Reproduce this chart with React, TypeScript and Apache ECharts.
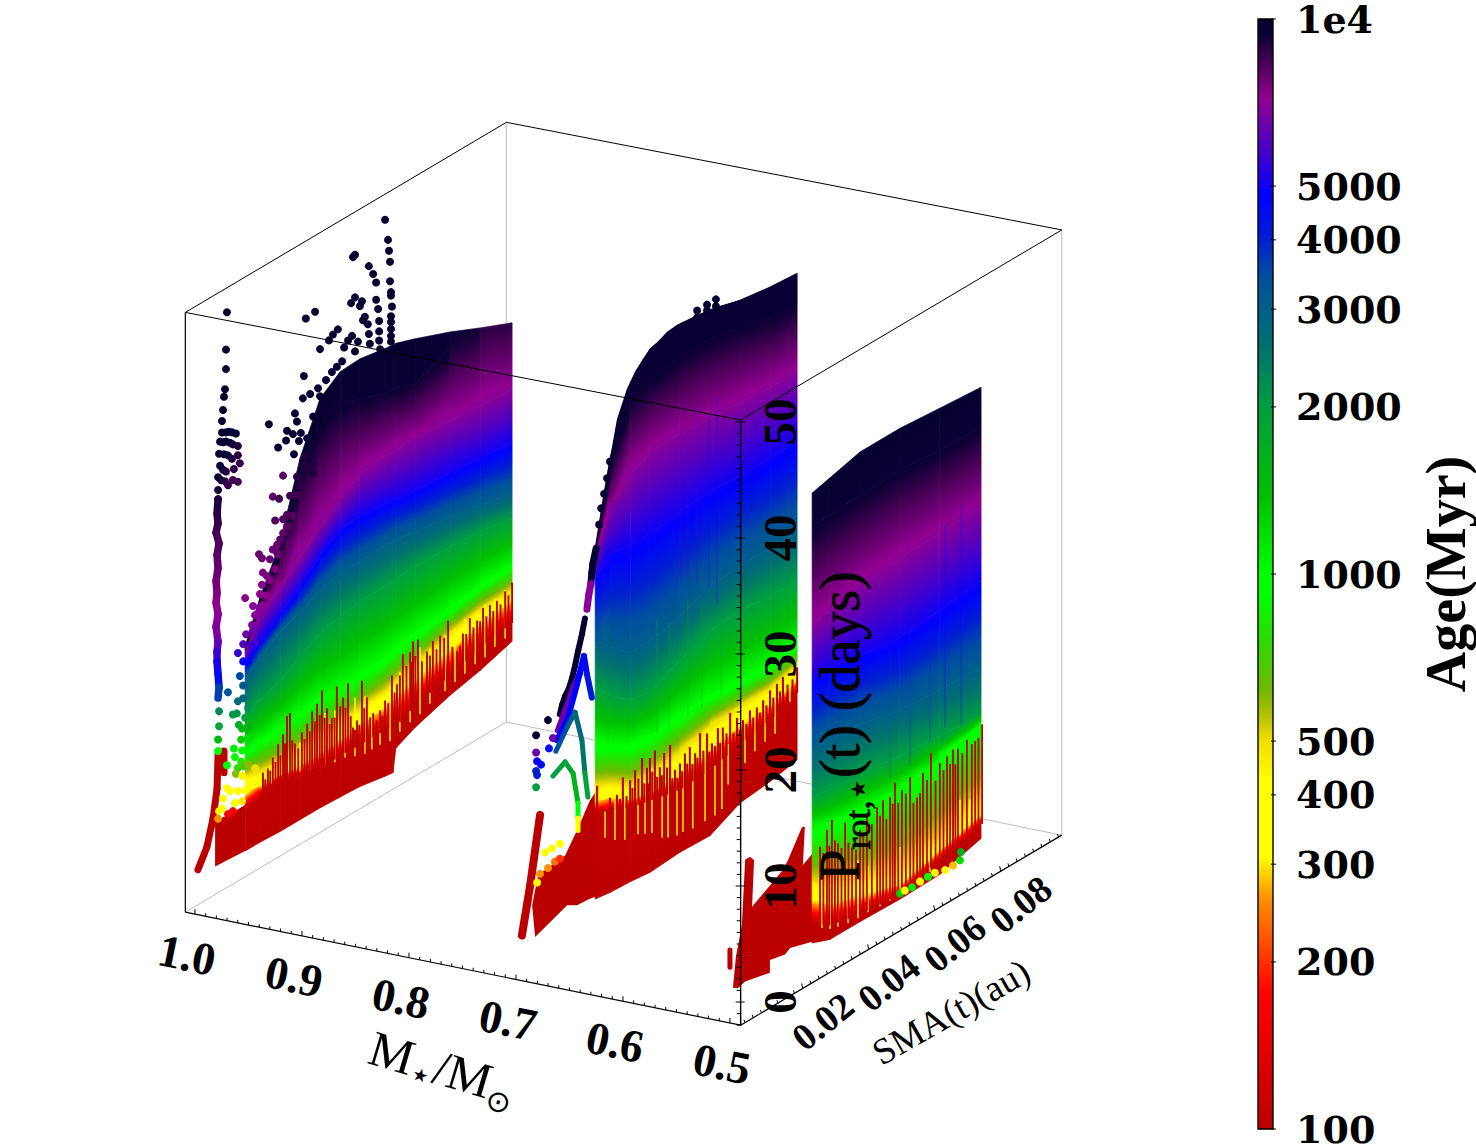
import { useEffect, useRef } from 'react';
import * as echarts from 'echarts';

// colour scale (Myr -> colour)
const scaleAges = [100, 175, 260, 310, 420, 500, 560, 620, 750, 920, 1000, 1380, 2000, 2590, 3450, 4000, 4800, 5800, 7200, 8500, 9300, 10000];
const scaleColors = ['#bb0000', '#ff0000', '#ff9000', '#ffff00', '#ffff00', '#f0e000', '#b0c000', '#70b800', '#30d800', '#00ff00', '#00ff00', '#00c000', '#009f40', '#007070', '#004f9f', '#0020d0', '#0000ff', '#4800c8', '#900090', '#400050', '#0e0035', '#05002f'];

const barTicks = [100, 200, 300, 400, 500, 1000, 2000, 3000, 4000, 5000, 10000];
const barLabels = ['100', '200', '300', '400', '500', '1000', '2000', '3000', '4000', '5000', '1e4'];
const massTicks = [1.0, 0.9, 0.8, 0.7, 0.6, 0.5];
const massLabels = ['1.0', '0.9', '0.8', '0.7', '0.6', '0.5'];
const smaTicks = [0.02, 0.04, 0.06, 0.08];
const smaLabels = ['0.02', '0.04', '0.06', '0.08'];
const protTicks = [0, 10, 20, 30, 40, 50];
const protLabels = ['0', '10', '20', '30', '40', '50'];

const massRange = [0.49, 1.009];
const smaRange = [0.0012, 0.0985];
const protRange = [-2, 50.17];

// one row per age, one value per sma column
const isoAges = [100, 105, 300, 500, 1000, 2000, 3000, 5000, 7000, 9500, 10000];

const leftMass = 1.0;
const leftSma = [0.0164, 0.0209, 0.027, 0.033, 0.0391, 0.0452, 0.0512, 0.0588, 0.0612, 0.0621, 0.0679, 0.0785, 0.0876, 0.0973];
const leftProt = [
  [0.9, 0.9, 0.8, 0.8, 0.8, 0.7, 0.6, 0.2, 0.1, 2.1, 2.9, 3.9, 4.5, 5.4],
  [4.3, 5.0, 5.2, 4.6, 4.1, 4.3, 4.2, 4.2, 4.2, 4.0, 4.8, 5.6, 6.4, 7.0],
  [6.0, 5.8, 5.7, 5.5, 5.6, 5.6, 5.9, 6.3, 6.5, 6.6, 7.0, 7.8, 8.6, 8.9],
  [7.5, 7.1, 6.8, 6.8, 6.9, 7.2, 7.4, 7.6, 7.8, 7.9, 8.3, 9.3, 9.9, 9.8],
  [9.4, 9.7, 9.8, 10.1, 10.3, 10.1, 10.2, 10.4, 10.7, 10.7, 11.0, 11.4, 11.8, 12.1],
  [12.9, 13.3, 13.9, 15.0, 16.0, 16.4, 16.7, 16.7, 16.8, 16.8, 16.9, 16.8, 16.6, 16.1],
  [15.8, 17.0, 18.2, 18.9, 19.8, 20.1, 20.1, 20.3, 20.2, 20.2, 19.9, 19.4, 18.9, 18.2],
  [17.2, 18.3, 19.7, 21.0, 22.8, 24.0, 24.2, 23.9, 23.9, 23.8, 23.5, 23.3, 23.0, 22.7],
  [18.1, 20.7, 22.0, 23.6, 25.2, 26.6, 27.7, 28.1, 28.0, 28.0, 28.1, 27.8, 27.5, 27.3],
  [18.4, 21.8, 25.2, 30.9, 34.2, 34.9, 34.3, 33.5, 33.5, 33.4, 32.8, 34.1, 34.2, 33.0],
  [18.7, 22.2, 25.9, 32.2, 36.4, 37.7, 37.8, 37.4, 37.3, 37.3, 36.7, 35.5, 34.3, 33.1],
];
// the sheet's right end stops short of the oldest ages
const leftNearTopAges = [9500, 9500, 9500, 9500, 9500, 9500, 9500, 9500, 9500, 9500, 9500, 9500, 9000, 8700];
const leftTopAges = [10000, 10000, 10000, 10000, 10000, 10000, 10000, 10000, 10000, 10000, 10000, 9600, 9000, 8700];

const midMass = 0.7;
const midSma = [0.0252, 0.0297, 0.0358, 0.0418, 0.0509, 0.06, 0.0691, 0.0782, 0.0864];
const midProt = [
  [0.9, 0.7, 0.6, 0.4, 0.6, 0.5, 1.8, 2.1, 2.6],
  [8.1, 7.8, 7.0, 6.6, 6.0, 6.2, 6.8, 7.4, 8.4],
  [9.4, 8.9, 7.7, 7.3, 7.3, 7.9, 8.5, 8.7, 9.5],
  [10.7, 10.2, 8.9, 8.8, 9.4, 10.0, 10.2, 10.2, 10.8],
  [14.2, 13.4, 12.4, 12.2, 12.4, 12.6, 12.2, 12.1, 12.5],
  [19.4, 17.7, 16.3, 16.1, 17.2, 18.2, 18.4, 18.2, 18.1],
  [23.2, 22.0, 20.4, 20.4, 21.0, 22.1, 22.3, 22.3, 22.4],
  [28.6, 30.0, 29.8, 29.7, 30.1, 30.3, 30.1, 30.1, 30.2],
  [30.6, 34.1, 35.8, 36.8, 36.8, 36.6, 36.4, 36.2, 36.2],
  [31.0, 37.1, 42.4, 42.8, 43.5, 43.5, 43.0, 42.3, 42.0],
  [31.3, 38.3, 43.6, 45.7, 46.3, 46.0, 45.3, 44.9, 44.7],
];
// top edge of the sheet: [sma, prot]
const midTopEdge = [[0.0258, 32.2], [0.0276, 35.3], [0.0297, 38.3], [0.0318, 41.3], [0.0348, 43.4], [0.0373, 44.5], [0.0397, 45.2], [0.0418, 45.7], [0.0439, 45.9], [0.047, 46.3], [0.05, 46.4], [0.0561, 46.2], [0.0621, 45.9], [0.07, 45.2], [0.0782, 44.9], [0.0864, 44.7]];
// faint vertical streaks: [sma, low, high, age]
const midStreaks = [[0.0512, 24, 38, 6000], [0.0533, 24, 37, 6000], [0.0561, 23, 38, 6000], [0.0597, 22, 37, 5000], [0.0621, 20, 38, 5000], [0.0439, 12, 22, 1800], [0.0476, 12, 21, 1800], [0.0533, 12, 22, 1800], [0.0576, 12, 21, 1800], [0.0633, 12, 19, 1800]];

const rightMass = 0.5;
const rightSma = [0.0261, 0.0315, 0.0406, 0.0527, 0.0648, 0.0773];
const rightProt = [
  [0.7, 0.1, 0.1, 0.0, 0.1, 1.1],
  [2.3, 1.3, 0.7, 0.4, 1.3, 2.3],
  [4.4, 3.1, 2.4, 1.2, 2.2, 3.1],
  [6.1, 4.8, 3.7, 2.5, 3.2, 4.7],
  [10.5, 10.0, 9.7, 9.4, 10.0, 11.1],
  [13.3, 13.0, 12.8, 12.4, 12.1, 11.7],
  [17.4, 17.3, 17.1, 16.3, 16.0, 15.9],
  [23.4, 23.5, 23.1, 22.5, 22.9, 23.4],
  [28.1, 28.5, 29.1, 29.4, 29.5, 29.7],
  [36.6, 36.7, 36.9, 37.0, 36.7, 36.6],
  [39.5, 39.9, 40.6, 40.6, 40.3, 40.0],
];
const rightStreaks = [[0.0664, 12.5, 30, 4800], [0.0712, 12, 31, 4800], [0.0618, 12, 26, 4000], [0.0558, 11, 25, 4000], [0.0497, 11, 22, 3500]];

// red spikes: [sma, prot]
const leftSpikes = [[0.0218, 6.8], [0.0233, 6.9], [0.0248, 7.6], [0.0264, 8.5], [0.0279, 9.1], [0.0291, 10.5], [0.03, 10.6], [0.0315, 7.7], [0.0336, 8.3], [0.0352, 8.8], [0.0367, 9.6], [0.0382, 10.0], [0.0397, 10.9], [0.0412, 9.1], [0.0427, 8.0], [0.0442, 10.5], [0.0461, 9.2], [0.0476, 10.2], [0.0491, 6.1], [0.0503, 6.5], [0.0518, 9.7], [0.0533, 8.0], [0.0552, 6.3], [0.0573, 6.2], [0.0588, 6.8], [0.0609, 8.6], [0.0624, 7.6], [0.0642, 9.9], [0.0664, 9.7], [0.0673, 10.5], [0.0688, 10.4], [0.0715, 8.9], [0.0733, 9.5], [0.0755, 9.6], [0.0779, 10.5], [0.0806, 7.4], [0.0824, 8.6], [0.0845, 9.6], [0.0867, 9.0], [0.0885, 9.8], [0.0906, 9.7], [0.0927, 9.7], [0.0952, 10.1], [0.0973, 10.5],
  [0.0225, 6.1], [0.024, 6.6], [0.0256, 7.1], [0.0271, 7.4], [0.0285, 8.2], [0.0307, 8.1], [0.0325, 7.1], [0.0344, 7.6], [0.036, 8.0], [0.0375, 8.6], [0.039, 8.9], [0.0405, 8.4], [0.042, 7.6], [0.0435, 7.9], [0.0452, 8.6], [0.0468, 8.2], [0.0484, 7.2], [0.0497, 5.8], [0.051, 6.0], [0.0525, 7.2], [0.0543, 6.1], [0.0562, 5.5], [0.058, 5.6], [0.0598, 6.4], [0.0617, 7.0], [0.0633, 8.2], [0.0653, 8.7], [0.0668, 8.8], [0.068, 9.1], [0.07, 8.3], [0.0724, 8.4], [0.0744, 8.6], [0.0767, 9.2], [0.0792, 8.0], [0.0815, 7.7], [0.0834, 8.4], [0.0856, 8.6], [0.0876, 8.8], [0.0895, 8.9], [0.0916, 9.0], [0.0938, 9.2], [0.0962, 9.6]];
const midSpikes = [[0.0258, 10.6], [0.0273, 8.5], [0.0297, 8.9], [0.0318, 8.8], [0.0336, 10.0], [0.0358, 9.4], [0.0373, 10.0], [0.0394, 10.7], [0.0409, 9.6], [0.0418, 10.3], [0.0433, 10.7], [0.0448, 9.0], [0.0461, 10.0], [0.0479, 10.4], [0.0494, 8.0], [0.0509, 8.3], [0.0524, 8.9], [0.0539, 9.2], [0.0555, 8.4], [0.057, 9.9], [0.0591, 9.5], [0.0606, 8.4], [0.0624, 9.4], [0.0639, 9.2], [0.0661, 10.1], [0.0682, 9.3], [0.07, 8.8], [0.0721, 9.3], [0.0742, 9.2], [0.0761, 9.5], [0.0782, 10.0], [0.0803, 10.2], [0.0821, 10.5], [0.0864, 10.6],
  [0.0265, 8], [0.0285, 8], [0.0307, 7.9], [0.0327, 8.3], [0.0347, 8.2], [0.0365, 8.6], [0.0383, 9.1], [0.0401, 8.4], [0.0413, 8.2], [0.0425, 9], [0.044, 8.3], [0.0454, 8.2], [0.047, 8.6], [0.0486, 7.4], [0.0501, 7.2], [0.0516, 7.5], [0.0531, 7.9], [0.0547, 7.6], [0.0562, 7.9], [0.058, 8.2], [0.0598, 7.8], [0.0615, 8], [0.0631, 8], [0.065, 8.5], [0.0671, 8.2], [0.0691, 8.1], [0.071, 8.3], [0.0731, 8.5], [0.0751, 8.6], [0.0771, 8.9], [0.0792, 9.2], [0.0812, 9.4], [0.0835, 9.6], [0.085, 9.8]];
const rightSpikes = [[0.0285, 8.6], [0.0306, 9.7], [0.0321, 10.3], [0.0339, 8.0], [0.0361, 9.4], [0.0382, 6.9], [0.0406, 8.0], [0.0427, 9.1], [0.0458, 9.1], [0.0476, 9.4], [0.0497, 9.3], [0.0512, 10.3], [0.0533, 9.3], [0.0558, 10.0], [0.0579, 7.9], [0.0597, 9.7], [0.0621, 11.0], [0.0648, 9.7], [0.067, 9.9], [0.0688, 10.2], [0.0703, 10.0], [0.073, 10.3], [0.0776, 10.9],
  [0.0295, 7.9], [0.0313, 8.2], [0.033, 8.4], [0.035, 7.4], [0.0371, 7.5], [0.0394, 6.5], [0.0416, 7.5], [0.0442, 7.9], [0.0467, 8.2], [0.0486, 7.6], [0.0505, 8.6], [0.0522, 8.4], [0.0545, 8.8], [0.0568, 7.6], [0.0588, 8.1], [0.0609, 8.9], [0.0635, 8.4], [0.0659, 8.9], [0.0679, 9.1], [0.0695, 8.8], [0.0716, 9.4], [0.0745, 9.7], [0.0755, 9.8], [0.0765, 9.9]];

// yellow streaks: [sma, low, high]
const leftYellow = [[0.0245, 5.4, 7.0], [0.03, 5, 8.2], [0.033, 5, 7.5], [0.0361, 4.5, 8], [0.0406, 4.3, 8.8], [0.0436, 4, 8.5], [0.0467, 3.9, 8], [0.0497, 3.5, 8.6], [0.0527, 3.2, 8.2], [0.0548, 3.2, 7.5], [0.0573, 3.2, 7.2], [0.0603, 3, 7.8], [0.0633, 3.3, 8.5], [0.0664, 3.6, 8.6], [0.0694, 3.8, 9.6], [0.0724, 4.2, 9], [0.077, 4.5, 9.4], [0.08, 4.8, 9.4], [0.083, 5, 9.8], [0.0861, 5.3, 9.6], [0.0891, 5.4, 10], [0.0921, 5.8, 10], [0.0952, 6, 10.2]];
const midYellow = [[0.0282, 5.7, 8], [0.0312, 5, 8.4], [0.0342, 4.5, 8.6], [0.0382, 4.3, 9], [0.0403, 4, 8.8], [0.0424, 3.7, 9.3], [0.0455, 2.8, 9], [0.0473, 2.5, 8.8], [0.05, 2.2, 7.6], [0.0518, 2.2, 8], [0.0548, 2, 8], [0.0585, 2, 8.5], [0.0615, 2, 8.3], [0.0636, 2.2, 8], [0.0655, 4, 7.5], [0.0706, 5, 8.6], [0.0736, 5.5, 8.8], [0.0767, 5.8, 9.2], [0.0797, 6, 9.4], [0.0842, 8, 10.2]];
const rightYellow = [[0.0291, 1.5, 7.5], [0.0315, 1, 5.5], [0.0339, 0.8, 7], [0.037, 0.6, 6], [0.04, 0.5, 5.5], [0.043, 0.5, 4.5], [0.0467, 0.4, 4], [0.0497, 0.4, 5], [0.0527, 0.4, 4.5], [0.0558, 0.5, 5.8], [0.0588, 0.6, 4.5], [0.0618, 0.8, 3.5], [0.0648, 1.5, 4.5], [0.0679, 2, 4.5], [0.0709, 2.5, 5.5], [0.0739, 3, 5], [0.0764, 3.2, 5]];

// free points: [sma, prot, age]
const leftDots = [
  [0.0109, 48.7, 10000], [0.0106, 45.5, 10000], [0.0106, 43.8, 10000], [0.0103, 42.1, 10000], [0.01, 41.5, 10000], [0.0097, 40.4, 10000], [0.0094, 39.5, 10000],
  [0.0094, 38.5, 10000], [0.0106, 38.3, 10000], [0.0115, 38.2, 10000], [0.0124, 38.0, 10000], [0.0136, 37.7, 10000], [0.0088, 37.8, 10000], [0.0097, 37.6, 10000], [0.0106, 37.5, 10000], [0.0118, 37.2, 9800], [0.0127, 36.9, 9500], [0.0142, 36.5, 9000], [0.0085, 36.8, 10000], [0.01, 36.5, 9800], [0.0112, 36.2, 9500], [0.0124, 35.7, 9000], [0.0142, 35.7, 8800], [0.0088, 35.7, 9500], [0.0097, 35.2, 9300], [0.0106, 34.9, 9000], [0.013, 34.7, 8800], [0.0148, 34.9, 8600], [0.0082, 34.8, 9500], [0.0091, 34.4, 9300], [0.0103, 34.1, 8800], [0.0127, 33.8, 8500], [0.0142, 33.4, 8400], [0.0082, 33.7, 9300], [0.0112, 33.6, 8600], [0.0082, 32.9, 9000],
  [0.0082, 12.0, 1500], [0.0085, 14.4, 2300], [0.0085, 13.1, 1900], [0.0082, 11.0, 1000],
  [0.0588, 48.6, 10000], [0.0597, 46.7, 10000], [0.06, 45.7, 10000], [0.0603, 44.7, 10000], [0.0603, 43.0, 10000], [0.0606, 42.0, 10000], [0.0606, 41.7, 10000], [0.0609, 40.7, 10000], [0.0606, 39.9, 10000], [0.0606, 39.4, 10000], [0.0606, 38.8, 10000], [0.0606, 38.2, 10000], [0.0606, 37.7, 10000],
  [0.0491, 47.0, 10000], [0.0497, 47.1, 10000], [0.0539, 45.4, 10000], [0.0552, 44.5, 10000], [0.0561, 43.6, 10000], [0.0561, 42.1, 10000], [0.0567, 41.2, 10000], [0.057, 40.1, 10000], [0.057, 39.2, 10000], [0.057, 38.4, 10000], [0.0573, 37.6, 10000],
  [0.0497, 43.4, 10000], [0.0485, 43.1, 10000], [0.0518, 42.7, 10000], [0.0512, 42.4, 10000], [0.0527, 41.2, 10000], [0.0521, 41.0, 10000], [0.0536, 40.4, 10000], [0.0539, 39.5, 10000], [0.0542, 38.6, 10000],
  [0.0376, 44.2, 10000], [0.0348, 44.1, 10000], [0.0445, 41.5, 10000], [0.043, 41.3, 10000], [0.0418, 41.0, 10000], [0.0391, 40.7, 10000], [0.0488, 40.2, 10000], [0.0476, 40.0, 10000], [0.0464, 39.6, 10000], [0.0506, 39.4, 10000], [0.0497, 38.7, 10000],
  [0.0458, 38.5, 10000], [0.0442, 38.3, 10000], [0.0427, 38.1, 10000], [0.0342, 39.2, 10000], [0.0409, 37.7, 10000], [0.0385, 37.4, 10000], [0.0339, 37.3, 10000], [0.0361, 37.3, 10000], [0.0391, 36.6, 10000], [0.0315, 36.4, 10000], [0.0321, 35.6, 10000], [0.0236, 36.8, 10000], [0.0291, 35.3, 10000], [0.0309, 34.7, 10000], [0.0333, 34.4, 9800], [0.0288, 34.5, 10000], [0.0264, 34.3, 10000], [0.0312, 32.9, 9500], [0.0327, 33.8, 9500], [0.0352, 33.6, 9500], [0.0345, 32.2, 9000], [0.037, 31.1, 9000],
  [0.037, 35.2, 10000], [0.0391, 34.2, 10000], [0.037, 33.5, 9800], [0.037, 30.3, 9000], [0.0339, 31.6, 9200], [0.0352, 30.8, 9000], [0.033, 29.8, 8800],
  [0.0279, 31.6, 8000], [0.0321, 30.8, 8800], [0.0345, 31.3, 9000], [0.0248, 30.3, 8000], [0.0267, 29.8, 8500], [0.03, 29.5, 8500], [0.0321, 29.2, 8500], [0.0255, 28.1, 8200], [0.0279, 27.8, 8200], [0.0291, 27.0, 8000], [0.0279, 26.6, 8000], [0.0261, 25.9, 7800], [0.0248, 25.7, 7800], [0.0206, 26.0, 7800], [0.0215, 25.5, 7800], [0.0239, 25.0, 7800], [0.0264, 25.0, 7800],
  [0.0309, 27.6, 8200], [0.0291, 28.0, 8200], [0.027, 26.2, 8000], [0.03, 25.4, 8000], [0.0261, 25.2, 7800], [0.0239, 23.2, 7400], [0.023, 22.0, 7200], [0.0209, 21.2, 7000], [0.0194, 20.9, 7000], [0.0185, 20.2, 6800], [0.0194, 18.5, 6000],
  [0.0218, 24.2, 7500], [0.023, 23.7, 7500], [0.0255, 23.9, 7500], [0.0215, 23.2, 7300], [0.0164, 22.9, 7300], [0.0209, 22.5, 7200], [0.0188, 21.8, 7000], [0.0215, 21.4, 7000], [0.02, 20.9, 7000], [0.0167, 19.7, 6500], [0.0188, 19.7, 6500], [0.0158, 19.0, 6000], [0.0142, 18.5, 5500], [0.0185, 18.5, 5500], [0.0158, 17.5, 5000], [0.0173, 17.2, 4800],
  [0.0148, 16.4, 3500], [0.0112, 15.6, 3300], [0.0158, 15.4, 3200], [0.0142, 14.3, 2700], [0.0127, 13.4, 2100], [0.0139, 13.3, 2100], [0.0158, 14.3, 2800], [0.0173, 13.2, 2200], [0.0164, 12.5, 1900], [0.0145, 12.2, 1800], [0.0155, 11.7, 1500], [0.0173, 11.6, 1600], [0.0152, 10.8, 1300], [0.0173, 10.6, 1200], [0.013, 10.4, 1100], [0.0155, 9.8, 1000], [0.0133, 9.6, 900], [0.0152, 8.9, 800], [0.0109, 9.3, 1000],
  [0.0142, 8.5, 750], [0.0158, 8.4, 700], [0.0173, 8.3, 600], [0.0194, 7.6, 500], [0.0136, 8.1, 600], [0.0155, 7.6, 450], [0.0109, 7.3, 350], [0.0118, 6.9, 350], [0.0142, 6.5, 350], [0.0164, 6.2, 330], [0.0097, 6.6, 350], [0.0133, 5.6, 320], [0.0155, 5.4, 300], [0.0085, 5.7, 340], [0.0094, 5.8, 320], [0.0082, 5.1, 260], [0.0112, 5.0, 170], [0.0127, 5.0, 170],
];
const midDots = [
  [0.0073, 18.1, 10000], [0.0109, 18.8, 10000], [0.0124, 17.0, 6500], [0.0073, 16.6, 6500], [0.0076, 15.8, 4800], [0.0088, 15.3, 4800], [0.0073, 15.0, 4000], [0.0076, 14.6, 4000], [0.0112, 16.3, 4500], [0.0073, 13.6, 2000],
  [0.0297, 38.0, 10000], [0.0288, 36.7, 10000], [0.0279, 35.5, 10000], [0.027, 34.4, 10000], [0.0264, 33.1, 10000],
  [0.0561, 46.6, 10000], [0.0591, 46.6, 10000], [0.0618, 46.6, 10000], [0.0561, 46.0, 10000], [0.0591, 46.1, 10000], [0.0618, 46.0, 10000],
  [0.01, 7.5, 350], [0.0121, 7.5, 350], [0.0145, 7.5, 350], [0.0085, 5.9, 260], [0.0109, 6.0, 260], [0.013, 6.2, 240], [0.0145, 6.2, 200], [0.0076, 5.3, 380],
];
const rightDots = [
  [0.0527, 0.5, 1300], [0.0542, 0.5, 400], [0.0564, 0.4, 1100], [0.0588, 0.5, 350], [0.0612, 0.5, 1000], [0.0633, 0.5, 420], [0.0664, 0.2, 380], [0.0688, 0.2, 280], [0.0709, 0.3, 1200], [0.0712, 0.95, 1700],
];

// connected runs: [sma, prot, age]
const leftTracks = [
  { width: 7.5, pts: [[0.0082, 32.9, 9000], [0.0079, 31.7, 8800], [0.0082, 30.8, 8600], [0.0076, 30.1, 8400], [0.0085, 29.0, 8200], [0.0079, 28.1, 8000], [0.0082, 26.9, 7800], [0.0076, 25.9, 7600], [0.0079, 24.8, 7400], [0.0076, 24.0, 7200], [0.0082, 22.9, 7000], [0.0076, 21.9, 6800], [0.0082, 20.5, 6200], [0.0079, 19.7, 5600], [0.0079, 18.8, 5100], [0.0082, 17.7, 4400], [0.0085, 16.5, 3600], [0.0082, 15.6, 3000]] },
  { width: 7, pts: [[0.0021, 1.7, 100], [0.0048, 3.2, 100], [0.0067, 5.4, 100], [0.0079, 7.8, 100], [0.0082, 10.7, 100]] },
  { width: 7, pts: [[0.01, 8.8, 100], [0.01, 10.7, 100]] },
];
const midTracks = [
  { width: 7, pts: [[0.0255, 31.2, 10000], [0.0245, 30.0, 10000], [0.0242, 29.3, 10000], [0.0239, 28.4, 7000], [0.0233, 27.6, 7000], [0.0227, 26.4, 7000]] },
  { width: 6, pts: [[0.0221, 25.7, 10000], [0.0212, 24.5, 10000], [0.02, 23.2, 10000], [0.0191, 22.1, 10000], [0.0182, 21.2, 10000], [0.0173, 20.5, 10000], [0.0161, 20.0, 10000], [0.0152, 19.4, 10000], [0.0145, 18.7, 10000]] },
  { width: 6, pts: [[0.0139, 17.4, 6500], [0.0161, 18.7, 6500], [0.0185, 20.3, 6500], [0.0206, 21.2, 6500]] },
  { width: 6, pts: [[0.0136, 16.6, 4800], [0.017, 18.0, 4800], [0.0197, 20.4, 4800], [0.0218, 22.5, 4600], [0.0227, 20.8, 4200], [0.0242, 18.5, 3600]] },
  { width: 5, pts: [[0.0133, 15.7, 3400], [0.0167, 17.2, 3000], [0.0191, 18.1, 2800], [0.0212, 15.3, 2500], [0.0221, 12.3, 1900], [0.023, 10.1, 1200]] },
  { width: 5, pts: [[0.0124, 13.7, 2000], [0.0161, 14.3, 1900], [0.0185, 12.9, 1600], [0.02, 10.1, 1000], [0.02, 8.8, 400], [0.02, 7.7, 200]] },
  { width: 8, pts: [[0.003, 1.5, 100], [0.0055, 5.4, 100], [0.0085, 11.0, 100]] },
];
const rightTracks = [
  { width: 5, pts: [[0.0012, 4.3, 100], [0.0012, 2.8, 100]] },
];

// solid red outlines: [sma, prot]
const leftRedBlock = [[0.0073, 1.1], [0.0073, 5.1], [0.0112, 4.9], [0.0164, 4.9], [0.0164, 0.9]];
const midRedBlock = [[0.007, 0.7], [0.0061, 3.6], [0.0079, 5.9], [0.0161, 6.2], [0.02, 7.9], [0.0236, 9.7], [0.0267, 10.5], [0.0267, 1.0], [0.0236, 1.2], [0.0197, 1.3], [0.0167, 1.8]];
const rightRedBlock = [[0.0021, 0.9], [0.003, 3.4], [0.0048, 5.8], [0.0058, 11.3], [0.0073, 11.3], [0.0085, 10.8], [0.0079, 6.9], [0.0173, 8.5], [0.0188, 9.1], [0.023, 11.2], [0.0239, 11.1], [0.0233, 7.9], [0.0285, 8.8], [0.0285, 0.6], [0.0194, 1.4], [0.0179, 1.1], [0.0133, 1.4], [0.0133, 0.3], [0.0058, 0.8], [0.0036, 0.6]];

const SERIF = '"Liberation Serif","DejaVu Sans"';
const RED = '#bb0000';

// view of the 3D box on the page
const project = (mass: number, sma: number, prot: number) => [
  191 + (1 - mass) * 1070 + 3300 * sma,
  1004.34 - (mass - 0.49) * 217.4 - 1953.6 * sma - (11.6 - 0.2 * (mass - 0.49)) * prot,
];

const hexRgb = (c: string) => [1, 3, 5].map((i) => parseInt(c.slice(i, i + 2), 16));

const colorAt = (age: number) => {
  const la = Math.log10(age);
  for (let i = 1; i < scaleAges.length; i++) {
    if (age <= scaleAges[i]) {
      const a = Math.log10(scaleAges[i - 1]);
      const b = Math.log10(scaleAges[i]);
      const t = Math.max(0, (la - a) / (b - a));
      const c0 = hexRgb(scaleColors[i - 1]);
      const c1 = hexRgb(scaleColors[i]);
      const mix = c0.map((v, k) => Math.round(v + (c1[k] - v) * t));
      return `rgb(${mix.join(',')})`;
    }
  }
  return scaleColors[scaleColors.length - 1];
};

const stopsBetween = (a0: number, a1: number) => {
  const l0 = Math.log10(a0);
  const l1 = Math.log10(a1);
  const stops = [{ offset: 0, color: colorAt(a0) }];
  scaleAges.forEach((a) => {
    if (a > a0 && a < a1) stops.push({ offset: (Math.log10(a) - l0) / (l1 - l0), color: colorAt(a) });
  });
  stops.push({ offset: 1, color: colorAt(a1) });
  return stops;
};

type Mark = any;

const lookup = (xs: number[], ys: number[], x: number) => {
  if (x <= xs[0]) return ys[0];
  for (let i = 1; i < xs.length; i++) {
    if (x <= xs[i]) return ys[i - 1] + ((ys[i] - ys[i - 1]) * (x - xs[i - 1])) / (xs[i] - xs[i - 1]);
  }
  return ys[ys.length - 1];
};

const addSheet = (marks: Mark[], s: any) => {
  const { mass, sma, prot, spikes, yellow, dots, tracks, block, spikeWidth, topAges, nearTopAges, topEdge, streaks } = s;
  const last = isoAges.length - 1;
  const ageOf = (k: number, j: number) => {
    if (k === last && topAges) return topAges[j];
    if (k === last - 1 && nearTopAges) return nearTopAges[j];
    return isoAges[k];
  };
  marks.push({ t: 'poly', pts: block.map((p: number[]) => project(mass, p[0], p[1])), fill: RED });
  for (let k = 0; k < last; k++) {
    for (let j = 0; j + 1 < sma.length; j++) {
      marks.push({
        t: 'band',
        a0: (ageOf(k, j) + ageOf(k, j + 1)) / 2,
        a1: (ageOf(k + 1, j) + ageOf(k + 1, j + 1)) / 2,
        pts: [
          project(mass, sma[j], prot[k][j]),
          project(mass, sma[j + 1], prot[k][j + 1]),
          project(mass, sma[j + 1], prot[k + 1][j + 1]),
          project(mass, sma[j], prot[k + 1][j]),
        ],
      });
    }
  }
  if (topEdge) {
    const under = sma.map((v: number, j: number) => project(mass, v, prot[last - 1][j])).reverse();
    marks.push({ t: 'poly', pts: [...topEdge.map((p: number[]) => project(mass, p[0], p[1])), ...under], fill: colorAt(9500) });
  }
  (streaks || []).forEach((l: number[]) => {
    marks.push({ t: 'line', a: project(mass, l[0], l[1]), b: project(mass, l[0], l[2]), color: colorAt(l[3]), width: 1, opacity: 0.5 });
  });
  yellow.forEach((y: number[]) => {
    marks.push({ t: 'line', a: project(mass, y[0], y[1]), b: project(mass, y[0], y[2]), color: '#ffff00', width: 1.4 });
  });
  spikes.forEach((p: number[]) => {
    const base = lookup(sma, prot[1], p[0]);
    marks.push({ t: 'line', a: project(mass, p[0], base), b: project(mass, p[0], p[1]), color: RED, width: spikeWidth });
  });
  tracks.forEach((tr: any) => {
    for (let i = 0; i + 1 < tr.pts.length; i++) {
      const p = tr.pts[i];
      const q = tr.pts[i + 1];
      marks.push({ t: 'line', a: project(mass, p[0], p[1]), b: project(mass, q[0], q[1]), color: colorAt(p[2]), width: tr.width, cap: 'round' });
    }
  });
  dots.forEach((d: number[]) => {
    marks.push({ t: 'dot', c: project(mass, d[0], d[1]), r: 4, color: colorAt(d[2]) });
  });
};

const buildMarks = () => {
  const marks: Mark[] = [];
  const [m0, m1] = massRange;
  const [s0, s1] = smaRange;
  const [p0, p1] = protRange;
  const edge = (a: number[], b: number[], color: string, width = 1) => {
    marks.push({ t: 'line', a: project(a[0], a[1], a[2]), b: project(b[0], b[1], b[2]), color, width });
  };
  // back of the box
  const grey = '#bdbdbd';
  edge([m1, s1, p0], [m1, s1, p1], grey);
  edge([m1, s1, p0], [m1, s0, p0], grey);
  edge([m1, s1, p0], [m0, s1, p0], grey);
  edge([m0, s1, p0], [m0, s1, p1], grey);

  addSheet(marks, { mass: leftMass, sma: leftSma, prot: leftProt, spikes: leftSpikes, yellow: leftYellow, dots: leftDots, tracks: leftTracks, block: leftRedBlock, spikeWidth: 1.9, topAges: leftTopAges, nearTopAges: leftNearTopAges });
  addSheet(marks, { mass: midMass, sma: midSma, prot: midProt, spikes: midSpikes, yellow: midYellow, dots: midDots, tracks: midTracks, block: midRedBlock, spikeWidth: 2.1, topEdge: midTopEdge, streaks: midStreaks });
  addSheet(marks, { mass: rightMass, sma: rightSma, prot: rightProt, spikes: rightSpikes, yellow: rightYellow, dots: rightDots, tracks: rightTracks, block: rightRedBlock, spikeWidth: 1.8, streaks: rightStreaks });

  // front of the box
  edge([m1, s0, p0], [m1, s0, p1], '#000', 1.2);
  edge([m1, s0, p1], [m0, s0, p1], '#000');
  edge([m1, s0, p1], [m1, s1, p1], '#000');
  edge([m1, s1, p1], [m0, s1, p1], '#000');
  edge([m0, s0, p1], [m0, s1, p1], '#000');
  edge([m1, s0, p0], [m0, s0, p0], '#000', 1.2);
  edge([m0, s0, p0], [m0, s1, p0], '#000', 1.2);
  edge([m0, s0, p0], [m0, s0, p1], '#000', 1.4);

  // ticks along the three edges
  for (let i = 0; i <= 52; i++) {
    const m = 0.49 + i * 0.01;
    if (m > m1) break;
    const a = project(m, s0, p0);
    const major = massTicks.some((v) => Math.abs(v - m) < 1e-6);
    marks.push({ t: 'line', a, b: [a[0], a[1] - (major ? 5 : 3)], color: '#000', width: 1 });
  }
  for (let i = 1; i * 0.0025 < s1; i++) {
    const s = i * 0.0025;
    const a = project(m0, s, p0);
    const major = i % 8 === 0;
    marks.push({ t: 'line', a, b: [a[0] - 1, a[1] - (major ? 5 : 3)], color: '#000', width: 1 });
  }
  for (let p = -2; p <= 50; p++) {
    const a = project(m0, s0, p);
    const major = protTicks.indexOf(p) >= 0;
    marks.push({ t: 'line', a: [a[0] - (major ? 5 : 4), a[1]], b: [a[0] + (major ? 4 : 0), a[1]], color: '#000', width: 1 });
  }

  // tick labels
  const tickFont = `bold 46px ${SERIF}`;
  massTicks.forEach((m, i) => {
    const a = project(m, s0, p0);
    marks.push({ t: 'text', text: massLabels[i], x: a[0] - 8, y: a[1] + 41, rot: -0.2, font: tickFont });
  });
  smaTicks.forEach((s, i) => {
    const a = project(m0, s, p0);
    marks.push({ t: 'text', text: smaLabels[i], x: a[0] + 20, y: a[1] + 33, rot: 0.68, font: `bold 38px ${SERIF}` });
  });
  protTicks.forEach((p, i) => {
    const a = project(m0, s0, p);
    marks.push({ t: 'text', text: protLabels[i], x: a[0] + 39, y: a[1], rot: Math.PI / 2, font: `bold 47px ${SERIF}` });
  });

  // axis titles
  marks.push({
    t: 'text', x: 443, y: 1068, rot: -0.29, font: `50px ${SERIF}`,
    text: 'M{s|⋆}/M{o|⊙}',
    rich: {
      s: { font: `36px ${SERIF}`, fill: '#000', verticalAlign: 'bottom', lineHeight: 62 },
      o: { font: `30px ${SERIF}`, fill: '#000', verticalAlign: 'bottom', lineHeight: 62 },
    },
  });
  marks.push({ t: 'text', text: 'SMA(t)(au)', x: 951, y: 1012, rot: 0.52, font: `37px ${SERIF}` });
  marks.push({
    t: 'text', x: 840, y: 726, rot: Math.PI / 2, font: `56px ${SERIF}`, stroke: 0.8,
    text: 'P{s|rot,⋆}(t) (days)',
    rich: { s: { font: `36px ${SERIF}`, fill: '#000', stroke: '#000', lineWidth: 0.8, verticalAlign: 'bottom', lineHeight: 72 } },
  });
  marks.push({ t: 'text', text: 'Age(Myr)', x: 1446, y: 574, rot: Math.PI / 2, font: `bold 56px ${SERIF}` });
  return marks;
};

const App = () => {
  const chartRef = useRef<HTMLDivElement>(null);

  useEffect(() => {
    if (!chartRef.current) return;
    document.body.style.margin = '0';
    const chart = echarts.init(chartRef.current, undefined, { renderer: 'svg' });
    const marks = buildMarks();

    const renderMark = (params: any, api: any) => {
      const m = marks[params.dataIndex];
      if (m.t === 'band') {
        const pts = m.pts.map((p: number[]) => api.coord(p));
        const lo = [(pts[0][0] + pts[1][0]) / 2, (pts[0][1] + pts[1][1]) / 2];
        const hi = [(pts[2][0] + pts[3][0]) / 2, (pts[2][1] + pts[3][1]) / 2];
        const dx = pts[1][0] - pts[0][0] + pts[2][0] - pts[3][0];
        const dy = pts[1][1] - pts[0][1] + pts[2][1] - pts[3][1];
        const len = Math.hypot(dx, dy) || 1;
        const nx = -dy / len;
        const ny = dx / len;
        const d = (hi[0] - lo[0]) * nx + (hi[1] - lo[1]) * ny;
        const grad = new echarts.graphic.LinearGradient(lo[0], lo[1], lo[0] + nx * d, lo[1] + ny * d, stopsBetween(m.a0, m.a1), true);
        return { type: 'polygon', shape: { points: pts }, style: { fill: grad, stroke: grad, lineWidth: 0.7 } };
      }
      if (m.t === 'poly') {
        return { type: 'polygon', shape: { points: m.pts.map((p: number[]) => api.coord(p)) }, style: { fill: m.fill } };
      }
      if (m.t === 'line') {
        const a = api.coord(m.a);
        const b = api.coord(m.b);
        return { type: 'line', shape: { x1: a[0], y1: a[1], x2: b[0], y2: b[1] }, style: { stroke: m.color, lineWidth: m.width, lineCap: m.cap || 'butt', opacity: m.opacity ?? 1 } };
      }
      if (m.t === 'dot') {
        const c = api.coord(m.c);
        return { type: 'circle', shape: { cx: c[0], cy: c[1], r: m.r }, style: { fill: m.color } };
      }
      return {
        type: 'text', x: m.x, y: m.y, rotation: m.rot,
        style: {
          text: m.text, font: m.font, fill: '#000', align: 'center', verticalAlign: 'middle', rich: m.rich,
          stroke: m.stroke ? '#000' : undefined, lineWidth: m.stroke || 0,
        },
      };
    };

    const barLog = (a: number) => Math.log10(a / 100) / 2;

    const renderBar = (params: any, api: any) => {
      const i = params.dataIndex;
      if (i === 0) {
        const top = api.coord([0, 10000]);
        const bottom = api.coord([1, 100]);
        const stops = scaleAges.map((a, k) => ({ offset: 1 - barLog(a), color: scaleColors[k] })).reverse();
        return {
          type: 'rect',
          shape: { x: top[0], y: top[1], width: bottom[0] - top[0], height: bottom[1] - top[1] },
          style: { fill: new echarts.graphic.LinearGradient(0, 0, 0, 1, stops), stroke: '#000', lineWidth: 1.4 },
        };
      }
      const age = barTicks[i - 1];
      const p = api.coord([1, age]);
      return {
        type: 'group',
        children: [
          { type: 'line', shape: { x1: p[0] - 2, y1: p[1], x2: p[0] + 3, y2: p[1] }, style: { stroke: '#000', lineWidth: 1 } },
          { type: 'text', x: p[0] + 23, y: p[1], style: { text: barLabels[i - 1], font: 'bold 38px "DejaVu Serif"', fill: '#000', align: 'left', verticalAlign: 'middle' } },
        ],
      };
    };

    chart.setOption({
      animation: false,
      backgroundColor: '#fff',
      grid: [
        { left: 0, top: 0, width: 1476, height: 1148 },
        { left: 1258, top: 19, width: 15, height: 1110 },
      ],
      xAxis: [
        { type: 'value', gridIndex: 0, min: 0, max: 1476, show: false },
        { type: 'value', gridIndex: 1, min: 0, max: 1, show: false },
      ],
      yAxis: [
        { type: 'value', gridIndex: 0, min: 0, max: 1148, inverse: true, show: false },
        { type: 'log', gridIndex: 1, min: 100, max: 10000, logBase: 10, show: false },
      ],
      series: [
        { type: 'custom', xAxisIndex: 0, yAxisIndex: 0, coordinateSystem: 'cartesian2d', renderItem: renderMark, data: marks.map((_, i) => [i, 0]), clip: false, silent: true, progressive: 0, encode: { x: 0, y: 1 } },
        { type: 'custom', xAxisIndex: 1, yAxisIndex: 1, coordinateSystem: 'cartesian2d', renderItem: renderBar, data: [0, ...barTicks].map((_, i) => [0, 100 + i]), clip: false, silent: true, encode: { x: 0, y: 1 } },
      ],
    });

    return () => {
      chart.dispose();
    };
  }, []);

  return <div ref={chartRef} style={{ width: 1476, height: 1148, overflow: 'hidden' }} />;
};

export default App;
